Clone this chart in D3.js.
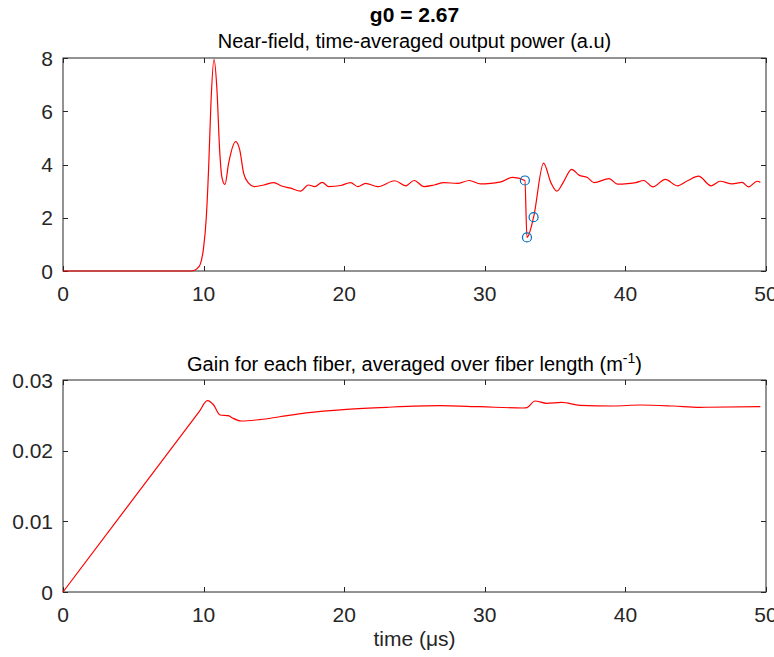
<!DOCTYPE html>
<html>
<head>
<meta charset="utf-8">
<script src="https://cdn.jsdelivr.net/npm/d3@7"></script>
<style>
  body { margin: 0; background: #fff; }
  text { font-family: "Liberation Sans", Arial, sans-serif; }
</style>
</head>
<body>
<svg id="chart" width="774" height="657"></svg>
<script>
// time axis ticks (us)
const timeTicks = [0, 10, 20, 30, 40, 50];
const powerTicks = [0, 2, 4, 6, 8];
const gainTicks = [0, 0.01, 0.02, 0.03];

// near-field output power
const powerT = [0, 9.0, 9.3, 9.55, 9.76, 10.0, 10.19, 10.36, 10.53, 10.74, 10.95, 11.14, 11.3, 11.52,
    11.78, 12.28, 12.57, 12.85, 13.2, 13.6, 14.28, 15.0, 15.5, 16.2, 16.89, 17.45, 17.9, 18.44,
    18.9, 19.74, 20.46, 20.97, 21.52, 22.4, 23.6, 24.38, 24.97, 25.68, 26.4, 27.1, 28.05, 28.9,
    29.7, 30.4, 31.15, 31.98, 32.85, 33.0, 33.47, 34.18, 34.7, 35.13, 35.6, 36.17, 36.7, 37.3,
    37.77, 38.84, 39.44, 40.15, 40.74, 41.3, 41.95, 42.83, 43.7, 44.45, 45.2, 46.1, 46.74, 47.6,
    48.3, 48.75, 49.37, 49.6];
const powerV = [0, 0, 0.02, 0.1, 0.25, 0.88, 2.0, 3.9, 6.4, 7.95, 6.8, 4.55, 3.53, 3.25,
    4.05, 4.86, 4.55, 3.67, 3.3, 3.17, 3.23, 3.32, 3.2, 3.11, 3.0, 3.23, 3.17, 3.33,
    3.17, 3.21, 3.32, 3.17, 3.29, 3.17, 3.39, 3.2, 3.4, 3.17, 3.23, 3.32, 3.29, 3.4,
    3.27, 3.29, 3.35, 3.52, 3.4, 1.26, 2.02, 4.05, 3.32, 3.0, 3.35, 3.82, 3.6, 3.51,
    3.32, 3.47, 3.26, 3.28, 3.32, 3.4, 3.16, 3.44, 3.2, 3.4, 3.56, 3.2, 3.37, 3.27,
    3.33, 3.16, 3.37, 3.33];

// marked samples (blue circles)
const markT = [32.85, 33.0, 33.47];
const markV = [3.4, 1.26, 2.02];

// fiber gain averaged over length (1/m)
const gainT = [0, 9.7, 10.27, 10.7, 11.17, 11.76, 12.1, 12.7, 14.0, 15.4, 17.3, 20.17, 23.0,
    26.8, 29.64, 32.74, 33.0, 33.57, 34.4, 35.47, 36.77, 39.14, 41.04, 43.4, 45.3, 49.6];
const gainV = [0, 0.02557, 0.02707, 0.0265, 0.02505, 0.02495, 0.02457, 0.0242, 0.0244, 0.0248,
    0.02535, 0.02585, 0.02614, 0.02637, 0.02622, 0.02604, 0.0261, 0.02703, 0.0267, 0.02684,
    0.02642, 0.02632, 0.02646, 0.02632, 0.02614, 0.02622];

const svg = d3.select("#chart");
const axisColor = "#262626";
const left = 63, right = 766;
const tickFont = 21;

const x = d3.scaleLinear().domain([0, 50]).range([left, right]);

/**
 * One boxed MATLAB-style axes: ticks inside on all four sides.
 */
function drawAxes(yScale, yTicks, fmt, top, bottom) {
    const g = svg.append("g");
    const tl = 5;

    g.append("rect")
        .attr("x", left).attr("y", top)
        .attr("width", right - left).attr("height", bottom - top)
        .attr("fill", "none").attr("stroke", axisColor).attr("stroke-width", 1);

    timeTicks.forEach(t => {
        const px = Math.round(x(t)) + 0.5;
        g.append("line").attr("x1", px).attr("x2", px).attr("y1", bottom).attr("y2", bottom - tl)
            .attr("stroke", axisColor);
        g.append("line").attr("x1", px).attr("x2", px).attr("y1", top).attr("y2", top + tl)
            .attr("stroke", axisColor);
        g.append("text").attr("x", x(t)).attr("y", bottom + 30)
            .attr("text-anchor", "middle").attr("font-size", tickFont).attr("fill", axisColor)
            .text(t);
    });

    yTicks.forEach(v => {
        const py = Math.round(yScale(v)) + 0.5;
        g.append("line").attr("x1", left).attr("x2", left + tl).attr("y1", py).attr("y2", py)
            .attr("stroke", axisColor);
        g.append("line").attr("x1", right).attr("x2", right - tl).attr("y1", py).attr("y2", py)
            .attr("stroke", axisColor);
        g.append("text").attr("x", left - 10).attr("y", yScale(v) + 7.5)
            .attr("text-anchor", "end").attr("font-size", tickFont).attr("fill", axisColor)
            .text(fmt(v));
    });
    return g;
}

// ---- top panel: output power
const yP = d3.scaleLinear().domain([0, 8]).range([271, 58]);
drawAxes(yP, powerTicks, d => d, 58, 271);

const powerData = powerT.map((t, i) => ({t: t, v: powerV[i]}));
svg.append("path")
    .datum(powerData)
    .attr("d", d3.line().x(d => x(d.t)).y(d => yP(d.v)).curve(d3.curveMonotoneX))
    .attr("fill", "none").attr("stroke", "#ff0000").attr("stroke-width", 1.2);

svg.selectAll("circle.mark")
    .data(markT.map((t, i) => ({t: t, v: markV[i]})))
    .join("circle")
    .attr("class", "mark")
    .attr("cx", d => x(d.t)).attr("cy", d => yP(d.v)).attr("r", 4.5)
    .attr("fill", "none").attr("stroke", "#0072bd").attr("stroke-width", 1.2);

// ---- bottom panel: gain
const yG = d3.scaleLinear().domain([0, 0.03]).range([592, 380]);
drawAxes(yG, gainTicks, d => d === 0 ? "0" : d3.format(".2f")(d), 380, 592);

const gainData = gainT.map((t, i) => ({t: t, v: gainV[i]}));
svg.append("path")
    .datum(gainData)
    .attr("d", d3.line().x(d => x(d.t)).y(d => yG(d.v)).curve(d3.curveMonotoneX))
    .attr("fill", "none").attr("stroke", "#ff0000").attr("stroke-width", 1.2);

// ---- titles
const cx = (left + right) / 2;
svg.append("text").attr("x", cx).attr("y", 22)
    .attr("text-anchor", "middle").attr("font-size", 21).attr("font-weight", "bold")
    .text("g0 = 2.67");
svg.append("text").attr("x", cx).attr("y", 48)
    .attr("text-anchor", "middle").attr("font-size", 20).attr("fill", "#000")
    .text("Near-field, time-averaged output power (a.u)");

const t2 = svg.append("text").attr("x", cx).attr("y", 371)
    .attr("text-anchor", "middle").attr("font-size", 20);
t2.append("tspan").text("Gain for each fiber, averaged over fiber length (m");
t2.append("tspan").attr("font-size", 14).attr("dy", -8).text("-1");
t2.append("tspan").attr("dy", 8).text(")");

svg.append("text").attr("x", cx).attr("y", 646)
    .attr("text-anchor", "middle").attr("font-size", tickFont).attr("fill", axisColor)
    .text("time (μs)");
</script>
</body>
</html>
